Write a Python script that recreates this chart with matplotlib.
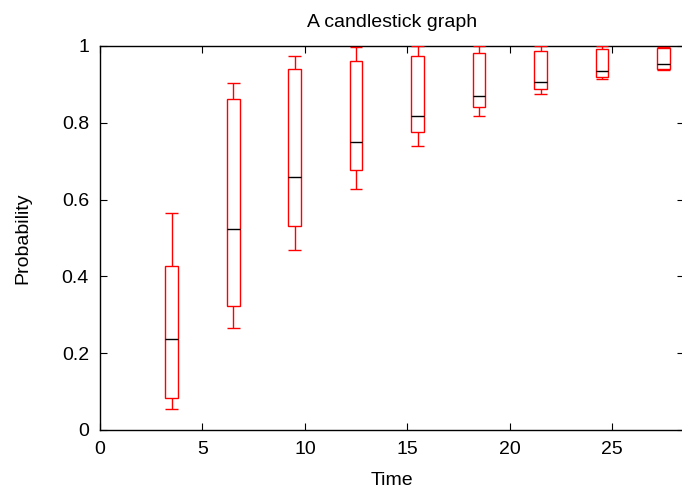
import matplotlib
matplotlib.use("Agg")
import matplotlib.pyplot as plt

plt.rcParams['font.family'] = ['Liberation Sans', 'DejaVu Sans']

# candlestick values
time = [3.5, 6.5, 9.5, 12.5, 15.5, 18.5, 21.5, 24.5, 27.5]
whisker_low = [0.055, 0.266, 0.470, 0.627, 0.740, 0.819, 0.875, 0.913, 0.937]
box_low = [0.084, 0.322, 0.531, 0.676, 0.775, 0.842, 0.889, 0.919, 0.939]
median = [0.237, 0.523, 0.659, 0.751, 0.819, 0.870, 0.906, 0.934, 0.952]
box_high = [0.427, 0.862, 0.940, 0.962, 0.974, 0.981, 0.987, 0.991, 0.994]
whisker_high = [0.566, 0.904, 0.975, 0.998, 0.999, 0.999, 0.999, 0.999, 0.998]

xticks = [0, 5, 10, 15, 20, 25]
yticks = [0, 0.2, 0.4, 0.6, 0.8, 1]
ytick_labels = ['0', '0.2', '0.4', '0.6', '0.8', '1']

width = 0.62

fig = plt.figure(figsize=(6.82, 4.88), dpi=100)
ax = fig.add_axes([100 / 682, 58 / 488, 584 / 682, 384 / 488])

heights = [h - l for h, l in zip(box_high, box_low)]
ax.bar(time, heights, width=width, bottom=box_low, fill=False,
       edgecolor='red', linewidth=1.0, zorder=3)
ax.vlines(time, box_high, whisker_high, color='red', linewidth=1.0, zorder=3)
ax.vlines(time, whisker_low, box_low, color='red', linewidth=1.0, zorder=3)
half = [t - width / 2 for t in time]
half2 = [t + width / 2 for t in time]
ax.hlines(whisker_high, half, half2, color='red', linewidth=1.0, zorder=3)
ax.hlines(whisker_low, half, half2, color='red', linewidth=1.0, zorder=3)
ax.hlines(median, half, half2, color='black', linewidth=1.0, zorder=4)

ax.set_xlim(0, 28.5)
ax.set_ylim(0, 1)
ax.set_xticks(xticks)
ax.set_yticks(yticks)
ax.set_yticklabels(ytick_labels)
ax.tick_params(direction='in', top=True, right=True, length=5, width=0.8,
               labelsize=14, pad=8)
for s in ax.spines.values():
    s.set_linewidth(1.0)

ax.set_title('A candlestick graph', fontsize=14, pad=14)
ax.set_xlabel('Time', fontsize=14, labelpad=10)
ax.set_ylabel('Probability', fontsize=14, labelpad=22)

fig.savefig('out.png', dpi=100)
